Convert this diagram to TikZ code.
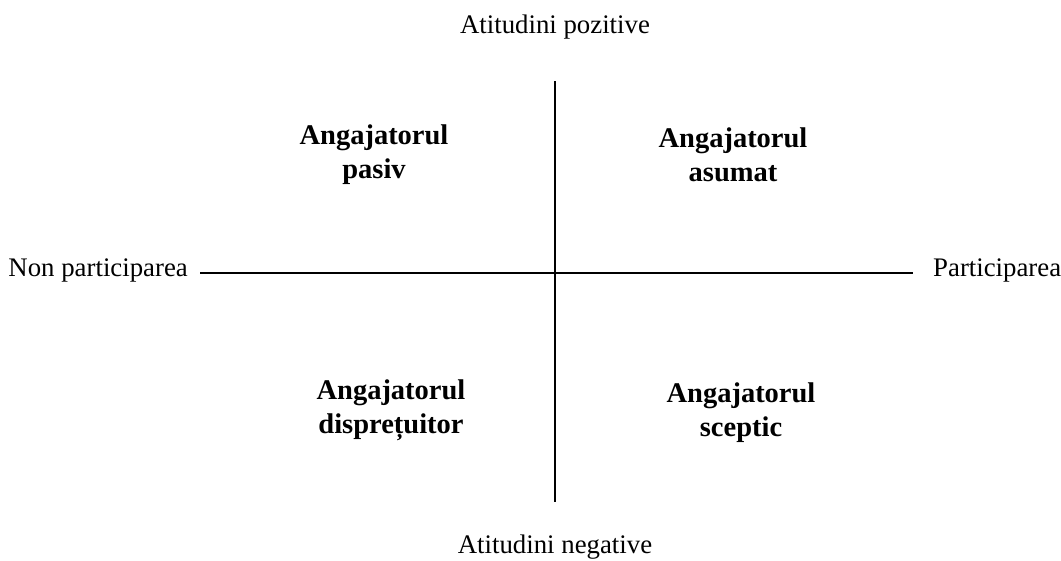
\documentclass[tikz,border=0pt]{standalone}
\usepackage{fontspec}
\setmainfont{Liberation Serif}
\begin{document}
\begin{tikzpicture}[x=1pt,y=-1pt,
  lbl/.style={font=\fontsize{26.8}{34}\selectfont, inner sep=0pt, anchor=center},
  quad/.style={font=\fontsize{28.5}{34}\selectfont\bfseries, inner sep=0pt, align=center, anchor=center},
  axis/.style={line width=1.6pt}]
\useasboundingbox (0,0) rectangle (1061,560);
\coordinate (top) at (555,81);
\coordinate (bot) at (555,502);
\coordinate (left) at (200,273);
\coordinate (right) at (913,273);
\draw[axis] (top) -- (bot);
\draw[axis] (left) -- (right);
\node[lbl] (pos) at (555,27) {Atitudini pozitive};
\node[lbl] (neg) at (555,547) {Atitudini negative};
\node[lbl, anchor=east] (nonp) at (188,270) {Non participarea};
\node[lbl, anchor=west] (part) at (933,270) {Participarea};
\node[quad] (pasiv) at (374,155) {Angajatorul\\pasiv};
\node[quad] (asumat) at (733,155) {Angajatorul\\asumat};
\node[quad] (disp) at (391,410) {Angajatorul\\disprețuitor};
\node[quad] (scept) at (741,413) {Angajatorul\\sceptic};
\end{tikzpicture}
\end{document}
